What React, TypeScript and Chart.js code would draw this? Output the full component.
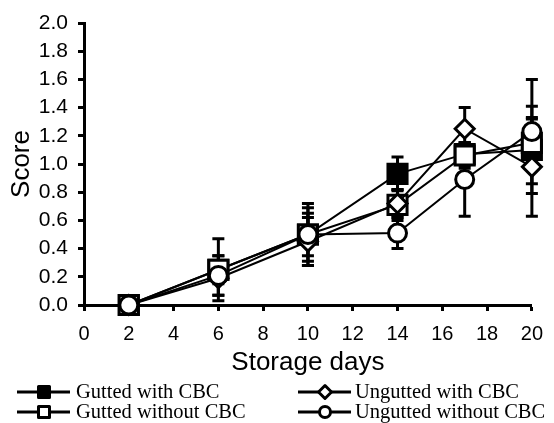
import React, { useEffect, useRef } from "react";
import { Chart, registerables } from "chart.js";

Chart.register(...registerables);

const days = [2, 6, 10, 14, 17, 20];
const xTicks = [0, 2, 4, 6, 8, 10, 12, 14, 16, 18, 20];

const guttedWithCBC = [0, 0.25, 0.5, 0.93, 1.07, 1.1];
const guttedWithCBCErr = [0, 0.22, 0.22, 0.12, 0.08, 0.31];

const guttedWithoutCBC = [0, 0.25, 0.5, 0.71, 1.06, 1.15];
const guttedWithoutCBCErr = [0, 0.1, 0.19, 0.11, 0.09, 0.17];

const unguttedWithCBC = [0, 0.19, 0.45, 0.72, 1.25, 0.98];
const unguttedWithCBCErr = [0, 0.12, 0.17, 0.1, 0.15, 0.35];

const unguttedWithoutCBC = [0, 0.21, 0.5, 0.51, 0.89, 1.23];
const unguttedWithoutCBCErr = [0, 0.14, 0.15, 0.11, 0.26, 0.37];

const seriesNames = [
  "Gutted with CBC",
  "Gutted without CBC",
  "Ungutted with CBC",
  "Ungutted without CBC",
];

const SANS = '"Liberation Sans", Arial, sans-serif';
const SERIF = '"Liberation Serif", "Times New Roman", serif';

function toPoints(vals: number[]) {
  return days.map((d, i) => ({ x: d, y: vals[i] }));
}

const errorBarPlugin = {
  id: "errorBars",
  beforeDatasetsDraw(chart: any) {
    const { ctx, scales } = chart;
    const xs = scales.x;
    const ys = scales.y;
    ctx.save();
    ctx.strokeStyle = "#000";
    ctx.lineWidth = 3;
    chart.data.datasets.forEach((ds: any) => {
      const errs: number[] = ds.errors || [];
      ds.data.forEach((p: any, i: number) => {
        const e = errs[i];
        if (!e) return;
        const px = xs.getPixelForValue(p.x);
        const top = ys.getPixelForValue(p.y + e);
        const bot = ys.getPixelForValue(p.y - e);
        ctx.beginPath();
        ctx.moveTo(px, top);
        ctx.lineTo(px, bot);
        ctx.moveTo(px - 6, top);
        ctx.lineTo(px + 6, top);
        ctx.moveTo(px - 6, bot);
        ctx.lineTo(px + 6, bot);
        ctx.stroke();
      });
    });
    ctx.restore();
  },
};

const legendPlugin = {
  id: "customLegend",
  afterDraw(chart: any) {
    const { ctx } = chart;
    const slots = [
      { col: 0, row: 0 },
      { col: 0, row: 1 },
      { col: 1, row: 0 },
      { col: 1, row: 1 },
    ];
    const colX = [17, 298];
    const textX = [76, 355];
    const rowY = [392, 412];
    ctx.save();
    chart.data.datasets.forEach((ds: any, i: number) => {
      const s = slots[i];
      const x0 = colX[s.col];
      const y = rowY[s.row];
      const mx = x0 + 27;
      ctx.strokeStyle = "#000";
      ctx.lineWidth = 3;
      ctx.beginPath();
      ctx.moveTo(x0, y);
      ctx.lineTo(x0 + 53, y);
      ctx.stroke();
      ctx.lineWidth = 3;
      ctx.lineJoin = "round";
      ctx.fillStyle = ds.legendFill;
      ctx.beginPath();
      if (ds.pointStyle === "rect") {
        ctx.rect(mx - 5.5, y - 5.5, 11, 11);
      } else if (ds.pointStyle === "rectRot") {
        ctx.moveTo(mx - 6.5, y);
        ctx.lineTo(mx, y - 6.5);
        ctx.lineTo(mx + 6.5, y);
        ctx.lineTo(mx, y + 6.5);
        ctx.closePath();
      } else {
        ctx.arc(mx, y, 5.5, 0, Math.PI * 2);
      }
      ctx.fill();
      ctx.stroke();
      ctx.fillStyle = "#000";
      ctx.font = `20.5px ${SERIF}`;
      ctx.textBaseline = "middle";
      ctx.textAlign = "left";
      ctx.fillText(seriesNames[i], textX[s.col], y + 1);
    });
    ctx.restore();
  },
};

export default function App() {
  const ref = useRef<HTMLCanvasElement | null>(null);

  useEffect(() => {
    document.body.style.margin = "0";
    const canvas = ref.current;
    if (!canvas) return;
    const base = {
      borderColor: "#000",
      borderWidth: 2,
      pointBorderColor: "#000",
      pointBorderWidth: 3,
      tension: 0,
      showLine: true,
      clip: false,
    };
    const chart = new Chart(canvas, {
      type: "scatter",
      data: {
        datasets: [
          {
            ...base,
            label: seriesNames[0],
            data: toPoints(guttedWithCBC),
            errors: guttedWithCBCErr,
            pointStyle: "rect",
            pointRadius: 13.5,
            pointBackgroundColor: "#000",
            legendFill: "#000",
            order: 3,
          } as any,
          {
            ...base,
            label: seriesNames[1],
            data: toPoints(guttedWithoutCBC),
            errors: guttedWithoutCBCErr,
            pointStyle: "rect",
            pointRadius: 13.5,
            pointBackgroundColor: "#fff",
            legendFill: "#fff",
            order: 2,
          } as any,
          {
            ...base,
            label: seriesNames[2],
            data: toPoints(unguttedWithCBC),
            errors: unguttedWithCBCErr,
            pointStyle: "rectRot",
            pointRadius: 9.5,
            pointBackgroundColor: "#fff",
            legendFill: "#fff",
            order: 1,
          } as any,
          {
            ...base,
            label: seriesNames[3],
            data: toPoints(unguttedWithoutCBC),
            errors: unguttedWithoutCBCErr,
            pointStyle: "circle",
            pointRadius: 9,
            pointBackgroundColor: "#fff",
            legendFill: "#fff",
            order: 0,
          } as any,
        ],
      },
      options: {
        responsive: false,
        animation: false,
        layout: { padding: { left: 2, right: 22, top: 23, bottom: 41 } },
        plugins: {
          legend: { display: false },
          tooltip: { enabled: false },
        },
        scales: {
          x: {
            type: "linear",
            min: 0,
            max: 20,
            afterBuildTicks: (scale: any) => {
              scale.ticks = xTicks.map((v) => ({ value: v }));
            },
            afterFit: (scale: any) => {
              scale.height = 77;
            },
            border: { color: "#000", width: 3 },
            grid: {
              drawOnChartArea: false,
              drawTicks: true,
              tickLength: 6,
              tickWidth: 3,
              tickColor: "#000",
            },
            ticks: {
              color: "#000",
              font: { family: SANS, size: 20 },
              padding: 11,
              maxRotation: 0,
              autoSkip: false,
            },
            title: {
              display: true,
              text: "Storage days",
              color: "#000",
              font: { family: SANS, size: 26 },
            },
          },
          y: {
            min: 0,
            max: 2,
            afterFit: (scale: any) => {
              scale.width = 82;
            },
            border: { color: "#000", width: 3 },
            grid: {
              drawOnChartArea: false,
              drawTicks: true,
              tickLength: 6,
              tickWidth: 3,
              tickColor: "#000",
            },
            ticks: {
              stepSize: 0.2,
              color: "#000",
              font: { family: SANS, size: 21 },
              padding: 10,
              callback: (v: any) => Number(v).toFixed(1),
            },
            title: {
              display: true,
              text: "Score",
              color: "#000",
              font: { family: SANS, size: 26 },
            },
          },
        },
      } as any,
      plugins: [errorBarPlugin, legendPlugin],
    });
    return () => chart.destroy();
  }, []);

  return (
    <div style={{ width: 554, height: 423 }}>
      <canvas ref={ref} width={554} height={423} style={{ display: "block" }} />
    </div>
  );
}
